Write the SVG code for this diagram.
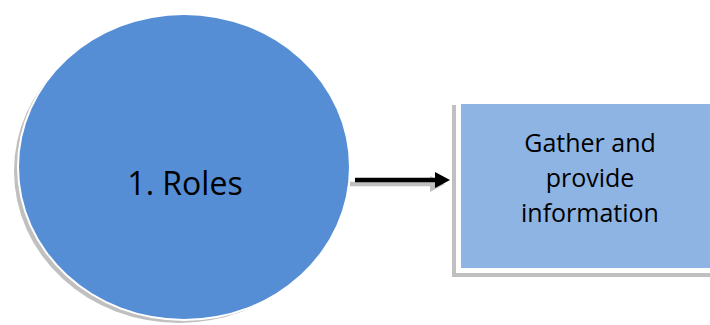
<svg xmlns="http://www.w3.org/2000/svg" width="710" height="325" viewBox="0 0 710 325">
  <style>
    .shadow { fill: #c0c0c0; }
    .lbl { font-family: "Open Sans", "Liberation Sans", sans-serif; fill: #000; text-anchor: middle; }
  </style>
  <rect width="710" height="325" fill="#fff"/>

  <g id="node-roles">
    <ellipse class="shadow" cx="179" cy="171" rx="165" ry="152"/>
    <ellipse cx="184" cy="167" rx="167" ry="154" fill="#fff"/>
    <ellipse cx="184" cy="167" rx="165" ry="152" fill="#558ED5"/>
    <text class="lbl" x="185" y="195" font-size="32">1. Roles</text>
  </g>

  <g id="connectors">
    <line x1="350" y1="184" x2="431" y2="184" stroke="#c0c0c0" stroke-width="4.5"/>
    <path d="M430,176 L445,184 L430,192 Z" fill="#c0c0c0"/>
    <line x1="355" y1="180" x2="436" y2="180" stroke="#000" stroke-width="4.5"/>
    <path d="M435,172 L450,180 L435,188 Z" fill="#000"/>
  </g>

  <g id="node-gather">
    <rect class="shadow" x="452" y="105" width="270" height="172"/>
    <rect x="456" y="100" width="270" height="173" fill="#fff"/>
    <rect x="461" y="104" width="260" height="164" fill="#8EB4E3"/>
    <text class="lbl" x="590" y="152" font-size="25">Gather and</text>
    <text class="lbl" x="590" y="187" font-size="25">provide</text>
    <text class="lbl" x="590" y="222" font-size="25">information</text>
  </g>
</svg>
